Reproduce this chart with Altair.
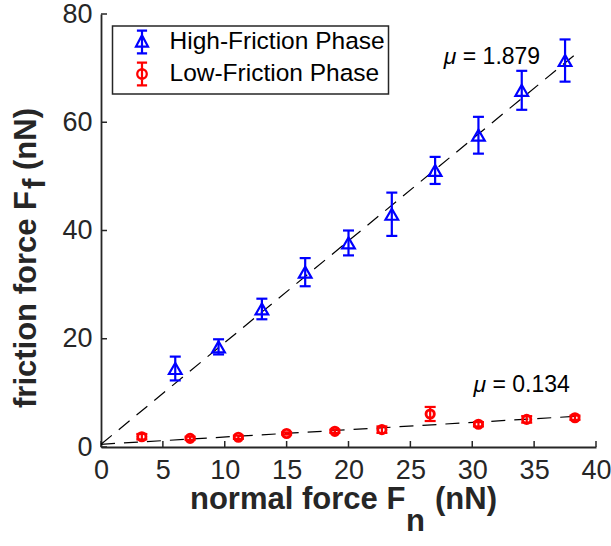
import math
import altair as alt
import pandas as pd

# ---------------- data ----------------
series_names = ["High-Friction Phase", "Low-Friction Phase"]

high_x = [6.0, 9.5, 13.0, 16.5, 20.0, 23.5, 27.0, 30.5, 34.0, 37.5]
high_y = [14.5, 18.5, 25.5, 32.3, 37.7, 43.0, 51.1, 57.6, 65.9, 71.4]
high_err = [2.2, 1.4, 1.9, 2.6, 2.3, 4.0, 2.5, 3.4, 3.6, 3.9]

low_x = [3.3, 7.2, 11.1, 15.0, 18.9, 22.7, 26.6, 30.5, 34.4, 38.3]
low_y = [1.9, 1.6, 1.8, 2.5, 2.9, 3.2, 6.1, 4.2, 5.1, 5.4]
low_err = [0.5, 0.3, 0.3, 0.2, 0.3, 0.6, 1.3, 0.4, 0.6, 0.4]

fit_high_x = [0.0, 38.2]
fit_high_y = [0.5, 72.3]
fit_low_x = [0.0, 38.6]
fit_low_y = [0.5, 5.7]

ann_x = [27.7, 30.1]
ann_y = [72.0, 11.4]
ann_text = ["= 1.879", "= 0.134"]

x_ticks = [0, 5, 10, 15, 20, 25, 30, 35, 40]
y_ticks = [0, 20, 40, 60, 80]

BLUE = "#0000FF"
RED = "#FF0000"
AX = "#262626"
FONT = "Liberation Sans"

W, H = 495, 433

xs = alt.Scale(domain=[0, 40], nice=False, zero=False)
ys = alt.Scale(domain=[0, 80], nice=False, zero=False)

high = pd.DataFrame({"x": high_x, "y": high_y, "e": high_err})
low = pd.DataFrame({"x": low_x, "y": low_y, "e": low_err})
fit = pd.DataFrame({
    "x": fit_high_x + fit_low_x,
    "y": fit_high_y + fit_low_y,
    "g": ["h", "h", "l", "l"],
})
ann = pd.DataFrame({"x": ann_x, "y": ann_y, "t": ann_text})
xt = pd.DataFrame({"v": x_ticks})
yt = pd.DataFrame({"v": y_ticks})
leg = pd.DataFrame({"series": series_names})

# axes + inward ticks
axes = alt.Chart(xt).mark_rule(color=AX, strokeWidth=1.5).encode(
    x=alt.X("v:Q", scale=xs, axis=alt.Axis(
        values=x_ticks, title=None, grid=False, tickSize=0, labelPadding=10,
        domainColor=AX, domainWidth=1.8, labelFontSize=27, labelFont=FONT,
        labelColor=AX, labelFlush=False)),
    y=alt.value(H),
    y2=alt.value(H - 6),
)

yaxes = alt.Chart(yt).mark_rule(color=AX, strokeWidth=1.5).encode(
    y=alt.Y("v:Q", scale=ys, axis=alt.Axis(
        values=y_ticks, title=None, grid=False, tickSize=0, labelPadding=9,
        domainColor=AX, domainWidth=1.8, labelFontSize=27, labelFont=FONT,
        labelColor=AX, labelFlush=False)),
    x=alt.value(0),
    x2=alt.value(6),
)

fit_lines = alt.Chart(fit).mark_line(color="black", strokeWidth=1.2, strokeDash=[14, 9]).encode(
    x=alt.X("x:Q", scale=xs),
    y=alt.Y("y:Q", scale=ys),
    detail="g:N",
)


def errbars(df, color):
    base = alt.Chart(df).transform_calculate(lo="datum.y - datum.e", hi="datum.y + datum.e")
    bar = base.mark_rule(color=color, strokeWidth=2.2).encode(
        x=alt.X("x:Q", scale=xs), y=alt.Y("lo:Q", scale=ys), y2="hi:Q")
    cap_lo = base.mark_tick(color=color, orient="horizontal", size=11, thickness=2.2, opacity=1).encode(
        x=alt.X("x:Q", scale=xs), y=alt.Y("lo:Q", scale=ys))
    cap_hi = base.mark_tick(color=color, orient="horizontal", size=11, thickness=2.2, opacity=1).encode(
        x=alt.X("x:Q", scale=xs), y=alt.Y("hi:Q", scale=ys))
    return bar + cap_lo + cap_hi


high_pts = alt.Chart(high).mark_point(shape="triangle-up", filled=False, color=BLUE,
                                      strokeWidth=2.2, size=160, opacity=1).encode(
    x=alt.X("x:Q", scale=xs), y=alt.Y("y:Q", scale=ys))
low_pts = alt.Chart(low).mark_point(shape="circle", filled=False, color=RED,
                                    strokeWidth=2.9, size=68, opacity=1).encode(
    x=alt.X("x:Q", scale=xs), y=alt.Y("y:Q", scale=ys))

mu = alt.Chart(ann).mark_text(text="μ", fontStyle="italic", font=FONT, fontSize=23,
                               align="left", baseline="middle", color="black").encode(
    x=alt.X("x:Q", scale=xs), y=alt.Y("y:Q", scale=ys))
mu_val = alt.Chart(ann).mark_text(font=FONT, fontSize=23, align="left", baseline="middle",
                                  color="black", dx=19).encode(
    x=alt.X("x:Q", scale=xs), y=alt.Y("y:Q", scale=ys), text="t:N")

# legend symbol shapes: marker with an error bar
bar_path = "M0,-1L0,1M-0.45,-1L0.45,-1M-0.45,1L0.45,1"
tri_bar = bar_path + "M0,-0.6L0.53,0.4L-0.53,0.4Z"
circ_pts = ["%.3f,%.3f" % (0.42 * math.cos(k * math.pi / 12), 0.42 * math.sin(k * math.pi / 12))
            for k in range(24)]
circ_bar = bar_path + "M" + "L".join(circ_pts) + "Z"

leg_props = dict(orient="none", legendX=11.5, legendY=12, padding=3.5, title=None,
                 strokeColor=AX, fillColor="white", labelFont=FONT, labelFontSize=24.5,
                 labelColor="black", symbolOffset=13.5, labelOffset=15, rowPadding=-1,
                 symbolSize=515, symbolStrokeWidth=2.2, labelLimit=0)
legend_layer = alt.Chart(leg).mark_point(filled=False, clip=True, size=515, strokeWidth=2.2,
                                         opacity=1).encode(
    x=alt.value(0), y=alt.value(-300),
    color=alt.Color("series:N", scale=alt.Scale(domain=series_names, range=[BLUE, RED]),
                    legend=alt.Legend(**leg_props)),
    shape=alt.Shape("series:N", scale=alt.Scale(domain=series_names, range=[tri_bar, circ_bar]),
                    legend=alt.Legend(**leg_props)),
)

# axis titles with subscripts
TS = 31
one_x = alt.Chart(xt).transform_filter("datum.v == 0")
one_y = alt.Chart(yt).transform_filter("datum.v == 0")
title_style = dict(font=FONT, fontSize=TS, fontWeight="bold", color=AX, baseline="alphabetic")

xt1 = one_x.mark_text(text="normal force F", align="left", **title_style).encode(
    x=alt.value(89), y=alt.value(495))
xt2 = one_x.mark_text(text="n", align="left", **title_style).encode(
    x=alt.value(305), y=alt.value(517))
xt3 = one_x.mark_text(text="(nN)", align="left", **title_style).encode(
    x=alt.value(334), y=alt.value(495))

yt1 = one_y.mark_text(text="friction force F", angle=270, align="left", **title_style).encode(
    x=alt.value(-65), y=alt.value(394))
yt2 = one_y.mark_text(text="f", angle=270, align="left", **title_style).encode(
    x=alt.value(-56), y=alt.value(175))
yt3 = one_y.mark_text(text="(nN)", angle=270, align="left", **title_style).encode(
    x=alt.value(-65), y=alt.value(156))

chart = alt.layer(
    axes, yaxes, fit_lines,
    errbars(high, BLUE), high_pts,
    errbars(low, RED), low_pts,
    mu, mu_val, legend_layer,
    xt1, xt2, xt3, yt1, yt2, yt3,
).properties(
    width=W, height=H,
    autosize=alt.AutoSizeParams(type="none"),
    padding={"left": 101, "top": 14, "right": 15, "bottom": 99},
).configure_view(stroke=None).configure_legend(strokeWidth=1.5)

chart.save("out.html", embed_options={"renderer": "svg", "actions": False})
